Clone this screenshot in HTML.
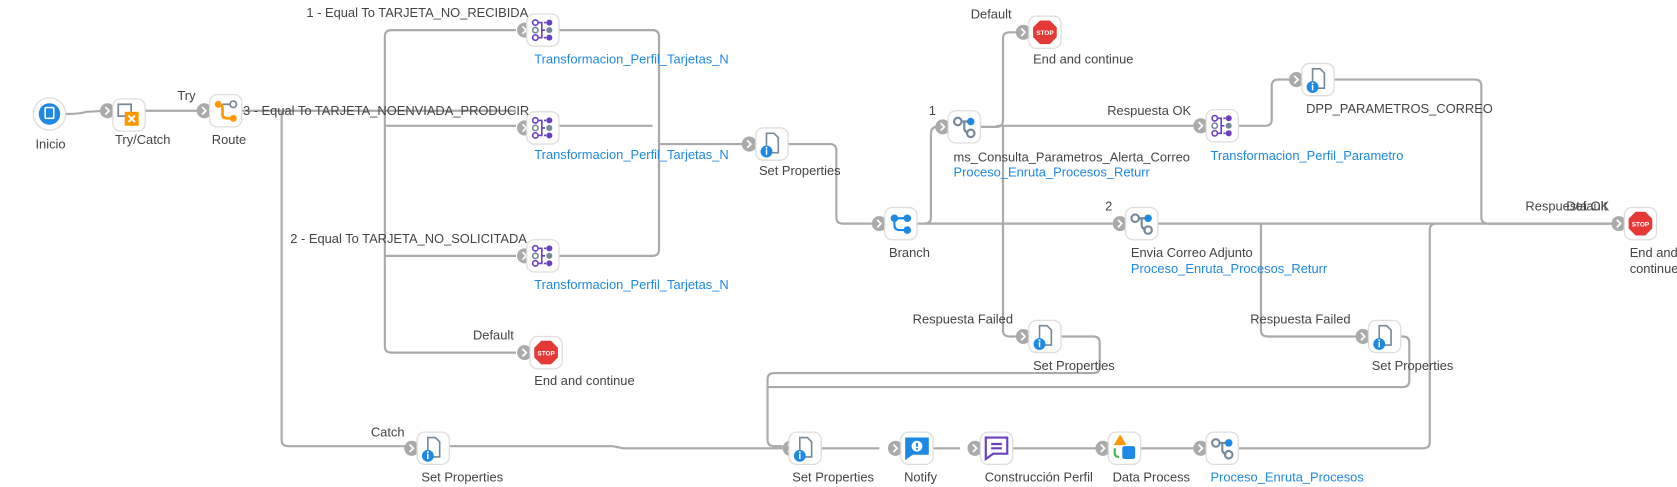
<!DOCTYPE html>
<html><head><meta charset="utf-8"><style>
html,body{margin:0;padding:0;background:#fff;}
svg{display:block}
text{font-family:"Liberation Sans",sans-serif;font-size:12px;fill:#444;}
.b{fill:#1e88e5}
.e{fill:none;stroke:#aaa;stroke-width:2;stroke-linejoin:round}
.n{fill:#fff;stroke:#ddd;stroke-width:1.2}
</style></head><body>
<svg width="1677" height="487" viewBox="0 0 1560 453" xmlns="http://www.w3.org/2000/svg">
<defs>
<g id="port"><circle r="7" fill="#aaa"/><path d="M-2,-3.5 L1.5,0 L-2,3.5" fill="none" stroke="#fff" stroke-width="1.6"/></g>
<g id="box"><rect x="-15" y="-15" width="30" height="30" rx="7" class="n"/></g>
<g id="doc"><use href="#box"/><path d="M-5,-10 h7 l4,4 v14 h-11z" fill="#fff" stroke="#789" stroke-width="1.5"/><circle cx="-5" cy="7" r="5.5" fill="#1e88e5"/><rect x="-5.7" y="5" width="1.4" height="5" fill="#fff"/><circle cx="-5" cy="3.5" r="0.9" fill="#fff"/></g>
<g id="tr"><use href="#box"/><g stroke="#6a3fc2" stroke-width="1.5" fill="none"><circle cx="-7" cy="-7" r="2.5"/><circle cx="-7" cy="0" r="2.5" stroke="#789"/><circle cx="-7" cy="7" r="2.5"/><path d="M-4,-7h3v14h-3M-1,0h3M3,-7h-2M3,7h-2"/></g><circle cx="6" cy="-7" r="2.8" fill="#6a3fc2"/><circle cx="6" cy="0" r="2.8" fill="#789"/><circle cx="6" cy="7" r="2.8" fill="#6a3fc2"/></g>
<g id="stop"><use href="#box"/><polygon points="-4.5,-11 4.5,-11 11,-4.5 11,4.5 4.5,11 -4.5,11 -11,4.5 -11,-4.5" fill="#e53935"/><text x="0" y="2.5" text-anchor="middle" style="font-size:6px;fill:#fff;font-weight:bold">STOP</text></g>
<g id="br"><use href="#box"/><circle cx="-6" cy="-5" r="3.5" fill="none" stroke="#789" stroke-width="2"/><path d="M-2,-5h6M0,-5v6q0,4 4,4" stroke="#789" stroke-width="2" fill="none"/><circle cx="6" cy="-5" r="3.5" fill="#1e88e5"/><circle cx="6" cy="6" r="3.5" fill="none" stroke="#789" stroke-width="2"/></g>
<g id="branch"><use href="#box"/><path d="M-6,-5v6q0,5 5,5h6M-6,-5h12" stroke="#1e88e5" stroke-width="2" fill="none"/><circle cx="-6" cy="-5" r="3.5" fill="#1e88e5"/><circle cx="6" cy="-5" r="3.5" fill="#1e88e5"/><circle cx="6" cy="6" r="3.5" fill="#1e88e5"/></g>
</defs>

<!-- edges -->
<path class="e" d="M61,106 Q75,106 80,104 L100,103"/>
<path class="e" d="M135,103 H190"/>
<path class="e" d="M225,103 H480"/>
<path class="e" d="M480,28 H364 Q358,28 358,34 V322 Q358,328 364,328 H480"/>
<path class="e" d="M358,117 H480 M358,238 H480"/>
<path class="e" d="M262,103 V409 Q262,415 268,415 H383"/>
<path class="e" d="M520,28 H607 Q613,28 613,34 V232 Q613,238 607,238 H520 M520,117 H607 M613,134 H690"/>
<path class="e" d="M733,134 H772 Q778,134 778,140 V202 Q778,208 784,208 H811"/>
<path class="e" d="M853,208 H1035 M853,208 H860 Q866,208 866,202 V124 Q866,118 872,118"/>
<path class="e" d="M912,118 H927 Q933,118 933,112 V36 Q933,30 939,30 H945 M933,118 Q933,118 933,124 V307 Q933,313 939,313 H945 M927,117 H1110"/>
<path class="e" d="M1152,117 H1177 Q1183,117 1183,111 V80 Q1183,74 1189,74 H1199"/>
<path class="e" d="M1241,74 H1372 Q1378,74 1378,80 V202 Q1378,208 1384,208 H1499"/>
<path class="e" d="M1077,208 H1499 M1173,208 V307 Q1173,313 1179,313 H1261"/>
<path class="e" d="M987,313 H1017 Q1023,313 1023,319 V341 Q1023,347 1017,347 H720 Q714,347 714,353 V409 Q714,415 720,415 H728"/>
<path class="e" d="M1303,313 H1305 Q1311,313 1311,319 V354 Q1311,360 1305,360 H714"/>
<path class="e" d="M418,415 L570,415 L580,417 H728"/>
<path class="e" d="M764,417 H818 M868,417 H893 M942,417 H1020 M1061,417 H1110 M1152,417 H1324 Q1330,417 1330,411 V214 Q1330,208 1336,208"/>

<!-- nodes -->
<circle cx="46" cy="106" r="15" class="n"/><circle cx="46" cy="106" r="10" fill="#1e88e5"/><rect x="42" y="100" width="8" height="10" rx="1" fill="none" stroke="#fff" stroke-width="1.5"/>
<use href="#port" x="100" y="103"/><g transform="translate(120,107)"><use href="#box"/><rect x="-10" y="-10" width="12" height="11" fill="none" stroke="#789" stroke-width="1.6"/><rect x="-4" y="-3" width="13" height="13" fill="#ff9800"/><path d="M-0.5,0.5l6,6m0,-6l-6,6" stroke="#fff" stroke-width="1.8"/></g>
<use href="#port" x="190" y="103"/><g transform="translate(210,103)"><use href="#box"/><path d="M-7,-6 q4,0 4,4 v6 q0,3 4,3 h5" stroke="#ff9800" stroke-width="2.5" fill="none"/><circle cx="-7" cy="-6" r="3.2" fill="#ff9800"/><circle cx="7" cy="7" r="3.2" fill="#ff9800"/><circle cx="7" cy="-6" r="3" fill="none" stroke="#789" stroke-width="1.6"/><path d="M-3,-6h7" stroke="#789" stroke-width="1.6"/></g>

<use href="#port" x="488" y="28"/><use href="#tr" x="505" y="28"/>
<use href="#port" x="488" y="119"/><use href="#tr" x="505" y="119"/>
<use href="#port" x="488" y="238"/><use href="#tr" x="505" y="238"/>
<use href="#port" x="488" y="328"/><use href="#stop" x="508" y="328"/>
<use href="#port" x="383" y="417"/><use href="#doc" x="403" y="417"/>
<use href="#port" x="697" y="134"/><use href="#doc" x="718" y="134"/>
<use href="#port" x="818" y="208"/><use href="#branch" x="838" y="208"/>
<use href="#port" x="952" y="30"/><use href="#stop" x="972" y="30"/>
<use href="#port" x="877" y="118"/><use href="#br" x="897" y="118"/>
<use href="#port" x="1117" y="117"/><use href="#tr" x="1137" y="117"/>
<use href="#port" x="1206" y="74"/><use href="#doc" x="1226" y="74"/>
<use href="#port" x="1042" y="208"/><use href="#br" x="1062" y="208"/>
<use href="#port" x="1506" y="208"/><use href="#stop" x="1526" y="208"/>
<use href="#port" x="952" y="313"/><use href="#doc" x="972" y="313"/>
<use href="#port" x="1268" y="313"/><use href="#doc" x="1288" y="313"/>
<use href="#port" x="735" y="417"/><use href="#doc" x="749" y="417"/>
<use href="#port" x="833" y="417"/><g transform="translate(853,417)"><use href="#box"/><path d="M-11,-10h22v16h-15l-7,5z" fill="#1e88e5"/><circle cx="0" cy="-2" r="5" fill="#fff"/><rect x="-0.9" y="-5" width="1.8" height="3.5" fill="#1e88e5"/><circle cx="0" cy="0.5" r="1" fill="#1e88e5"/></g>
<use href="#port" x="907" y="417"/><g transform="translate(927,417)"><use href="#box"/><path d="M-10,-10h20v15h-13l-7,5z" fill="none" stroke="#6a3fc2" stroke-width="2"/><path d="M-5,-4h10M-5,0h10" stroke="#6a3fc2" stroke-width="2"/></g>
<use href="#port" x="1026" y="417"/><g transform="translate(1046,417)"><use href="#box"/><polygon points="-4,-13 2,-3 -10,-3" fill="#ff9800"/><rect x="-2" y="-2" width="12" height="12" rx="2" fill="#1e88e5"/><path d="M-9,0 v5 q0,3 4,3" stroke="#4caf50" stroke-width="2" fill="none"/></g>
<use href="#port" x="1117" y="417"/><use href="#br" x="1137" y="417"/>

<!-- labels -->
<text x="33" y="138">Inicio</text>
<text x="107" y="134">Try/Catch</text>
<text x="165" y="93">Try</text>
<text x="197" y="134">Route</text>
<text x="226" y="107">3 - Equal To TARJETA_NOENVIADA_PRODUCIR</text>
<text x="285" y="16">1 - Equal To TARJETA_NO_RECIBIDA</text>
<text x="270" y="226">2 - Equal To TARJETA_NO_SOLICITADA</text>
<text x="440" y="316">Default</text>
<text x="345" y="406">Catch</text>
<text class="b" x="497" y="59">Transformacion_Perfil_Tarjetas_N</text>
<text class="b" x="497" y="148">Transformacion_Perfil_Tarjetas_N</text>
<text class="b" x="497" y="269">Transformacion_Perfil_Tarjetas_N</text>
<text x="497" y="358">End and continue</text>
<text x="392" y="448">Set Properties</text>
<text x="706" y="163">Set Properties</text>
<text x="827" y="239">Branch</text>
<text x="903" y="17">Default</text>
<text x="961" y="59">End and continue</text>
<text x="864" y="107">1</text>
<text x="887" y="150">ms_Consulta_Parametros_Alerta_Correo</text>
<text class="b" x="887" y="164">Proceso_Enruta_Procesos_Returr</text>
<text x="1030" y="107">Respuesta OK</text>
<text class="b" x="1126" y="149">Transformacion_Perfil_Parametro</text>
<text x="1215" y="105">DPP_PARAMETROS_CORREO</text>
<text x="1028" y="196">2</text>
<text x="1052" y="239">Envia Correo Adjunto</text>
<text class="b" x="1052" y="254">Proceso_Enruta_Procesos_Returr</text>
<text x="1419" y="196">Respuesta OK</text>
<text x="1457" y="196">Default</text>
<text x="1516" y="239">End and</text>
<text x="1516" y="254">continue</text>
<text x="849" y="301">Respuesta Failed</text>
<text x="961" y="344">Set Properties</text>
<text x="1163" y="301">Respuesta Failed</text>
<text x="1276" y="344">Set Properties</text>
<text x="737" y="448">Set Properties</text>
<text x="841" y="448">Notify</text>
<text x="916" y="448">Construcción Perfil</text>
<text x="1035" y="448">Data Process</text>
<text class="b" x="1126" y="448">Proceso_Enruta_Procesos</text>
</svg>
</body></html>
